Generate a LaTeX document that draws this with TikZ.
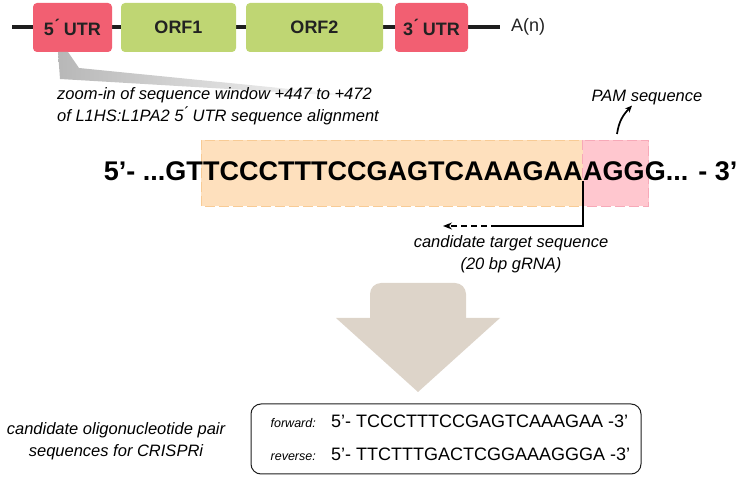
\documentclass[tikz,border=0pt]{standalone}
\usepackage{fontspec}
\setmainfont{Liberation Sans}
\usetikzlibrary{arrows.meta,calc,backgrounds}
\definecolor{utrred}{HTML}{F25F72}
\definecolor{orfgreen}{HTML}{BFD673}
\definecolor{boxtext}{HTML}{222222}
\definecolor{tgtfill}{HTML}{FEE0BD}
\definecolor{tgtline}{HTML}{F8CB95}
\definecolor{pamfill}{HTML}{FFC7CF}
\definecolor{pamline}{HTML}{F7A9B8}
\definecolor{taupe}{HTML}{DDD4C9}
\definecolor{darkline}{HTML}{1E1E1E}
\tikzset{
  gene/.style={rounded corners=4pt, minimum height=49pt, inner sep=0pt,
    font=\fontsize{18}{21}\selectfont\bfseries, text=boxtext},
  utr/.style={gene, fill=utrred},
  orf/.style={gene, fill=orfgreen},
  seqtext/.style={inner sep=0pt, font=\fontsize{27}{32}\selectfont\bfseries},
  lbl/.style={inner sep=0pt, font=\fontsize{16.5}{22}\selectfont\itshape},
  small/.style={inner sep=0pt, font=\fontsize{12.5}{15}\selectfont\itshape},
  oligo/.style={inner sep=0pt, font=\fontsize{18}{21}\selectfont},
}
\begin{document}
\begin{tikzpicture}[x=1pt,y=-1pt]
\useasboundingbox (0,0) rectangle (748,478);

% ---- gene map ----
\coordinate (lineL) at (12,27);
\coordinate (lineR) at (500,27);
\draw[line width=4pt, darkline] (lineL) -- (lineR);
\node[utr, minimum width=79pt] (utr5) at (72.5,27.5) {5\'{} UTR};
\node[orf, minimum width=115pt] (orf1) at (178.5,27.5) {ORF1};
\node[orf, minimum width=137pt] (orf2) at (314.5,27.5) {ORF2};
\node[utr, minimum width=73pt] (utr3) at (431.5,27.5) {3\'{} UTR};
\node[inner sep=0pt, anchor=west, font=\fontsize{18}{21}\selectfont, text=boxtext] (polyA) at (511,27) {A(n)};

% ---- zoom callout ----
\shade[left color=black!28, right color=white, shading angle=90]
  (58,52) -- (68,52) -- (79,68) -- (380,98) -- (60,79) -- cycle;
\node[lbl, anchor=north west, align=left] (zoomtxt) at (57,87)
  {zoom-in of sequence window +447 to +472\\of L1HS:L1PA2 5\'{} UTR sequence alignment};

% ---- sequence ----
\node[seqtext, anchor=base west] (tgt) at (203,181) {TCCCTTTCCGAGTCAAAGAA};
\node[seqtext, anchor=base east] (pre) at (tgt.base west) {5’- ...GT};
\node[seqtext, anchor=base west] (pam) at (tgt.base east) {AGG};
\node[seqtext, anchor=base west] (post) at (pam.base east) {G... - 3’};
\begin{pgfonlayer}{background}
  \draw[fill=tgtfill, draw=tgtline, dash pattern=on 10pt off 4pt, line width=0.8pt]
    ($(tgt.west |- 0,140)+(-2,0)$) rectangle (tgt.east |- 0,206);
  \draw[fill=pamfill, draw=pamline, dash pattern=on 10pt off 4pt, line width=0.8pt]
    (tgt.east |- 0,140) rectangle ($(pam.east |- 0,206)+(4,0)$);
\end{pgfonlayer}

% ---- PAM label ----
\node[lbl] (pamlbl) at (647,98) {PAM sequence};
\coordinate (pamtail) at (617,134);
\draw[line width=1.7pt, -{Stealth[length=7pt,width=6pt]}]
  (pamtail) .. controls (619,121) and (623,115) .. (pamlbl.south -| 632,0);

% ---- target arrow ----
\coordinate (split) at (tgt.base east);
\coordinate (bend) at (497,226);
\coordinate (tipend) at (443,226);
\draw[line width=1.4pt] (split) |- (bend);
\draw[line width=1.4pt, dash pattern=on 6pt off 4pt, -{Stealth[length=9pt,width=7pt]}] (bend) -- (tipend);
\node[lbl, anchor=north, align=center] (tgtlbl) at (511,235)
  {candidate target sequence\\(20 bp gRNA)};

% ---- big arrow ----
\fill[taupe, rounded corners=11pt] (370,332) -- (370,283) -- (466,283) -- (466,332) -- cycle;
\fill[taupe] (336,318) -- (500,318) -- (418,392) -- cycle;

% ---- oligo box ----
\node[draw=darkline, line width=1pt, rounded corners=10pt, minimum width=390pt,
  minimum height=70pt, inner sep=0pt] (obox) at (446,439) {};
\node[small, anchor=base east] (fwd) at (316,428) {forward:};
\node[oligo, anchor=base west] (fwdseq) at (331,428) {5’- TCCCTTTCCGAGTCAAAGAA -3’};
\node[small, anchor=base east] (rev) at (316,461) {reverse:};
\node[oligo, anchor=base west] (revseq) at (331,461) {5’- TTCTTTGACTCGGAAAGGGA -3’};

\node[lbl, align=center] (crispr) at (116,441)
  {candidate oligonucleotide pair\\sequences for CRISPRi};
\end{tikzpicture}
\end{document}
